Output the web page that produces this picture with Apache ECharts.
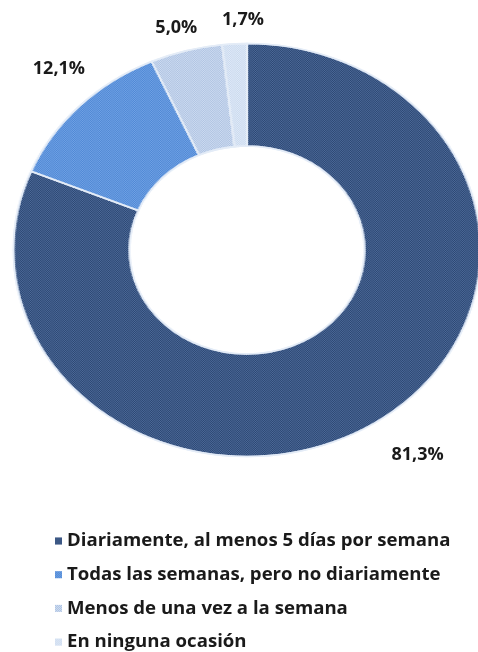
<!DOCTYPE html>
<html>
<head>
<meta charset="utf-8">
<script src="https://cdn.jsdelivr.net/npm/echarts@6/dist/echarts.min.js"></script>
<style>
  html, body { margin: 0; padding: 0; background: #ffffff; overflow: hidden; }
  #stage { position: relative; width: 478px; height: 652px; overflow: hidden; }
  #ring { position: absolute; left: 0; top: 0; width: 478px; height: 652px; }
  #annot { position: absolute; left: 0; top: 0; width: 478px; height: 760px; }
</style>
</head>
<body>
<div id="stage">
  <div id="ring"></div>
  <div id="annot"></div>
</div>
<script>
// Frequency categories and their shares (%)
const categories = [
  'Diariamente, al menos 5 días por semana',
  'Todas las semanas, pero no diariamente',
  'Menos de una vez a la semana',
  'En ninguna ocasión'
];
const shares = [81.3, 12.1, 5.0, 1.7];

// Styling
const baseColors = ['#2C4772', '#4E88D6', '#AEC3E3', '#C9D9EF'];
const dotColors = ['rgba(105,135,185,0.55)', 'rgba(150,188,240,0.5)', 'rgba(228,236,248,0.6)', 'rgba(242,246,252,0.6)'];
const labelNudge = [[24, 8], [1, -16], [-2, 6], [10, 6]];

// Ring geometry (the ring is drawn round and widened horizontally)
const CX = 247, CY = 250, R_OUT = 206.5, R_IN = 104;
const STRETCH = 233.5 / 206.5;
const FONT = '"Open Sans", "Noto Sans", sans-serif';

function checker(color) {
  return {
    symbol: 'rect',
    symbolSize: 1,
    color: color,
    dashArrayX: [[1, 1], [0, 1, 1, 0]],
    dashArrayY: [1, 0]
  };
}

function pieData() {
  return categories.map((name, i) => ({
    name: name,
    value: shares[i],
    itemStyle: { color: baseColors[i], decal: checker(dotColors[i]) }
  }));
}

const ringEl = document.getElementById('ring');
ringEl.style.transformOrigin = CX + 'px 0px';
ringEl.style.transform = 'scaleX(' + STRETCH + ')';

// The ring itself
const ring = echarts.init(ringEl, null, { renderer: 'canvas' });
ring.setOption({
  animation: false,
  series: [{
    type: 'pie',
    silent: true,
    center: [CX, CY],
    radius: [R_IN, R_OUT],
    startAngle: 90,
    clockwise: true,
    label: { show: false },
    labelLine: { show: false },
    itemStyle: { borderColor: '#E4ECF7', borderWidth: 1.6 },
    data: pieData()
  }]
});

// Value labels placed just outside the widened ring, plus legend
const total = shares.reduce((a, b) => a + b, 0);
const midAngles = [];
let acc = 0;
shares.forEach(v => { midAngles.push((acc + v / 2) / total * Math.PI * 2); acc += v; });

const annot = echarts.init(document.getElementById('annot'), null, { renderer: 'canvas' });
annot.setOption({
  animation: false,
  legend: {
    orient: 'vertical',
    left: 50,
    top: 526,
    itemWidth: 7,
    itemHeight: 7,
    itemGap: 13.7,
    icon: 'rect',
    itemStyle: { opacity: 1 },
    textStyle: { fontFamily: FONT, fontWeight: 'bold', fontSize: 18.6, color: '#1A1A1A', lineHeight: 20 },
    data: categories
  },
  series: [{
    type: 'pie',
    silent: true,
    center: [CX, CY],
    radius: [R_IN, R_OUT],
    startAngle: 90,
    clockwise: true,
    itemStyle: { opacity: 0 },
    labelLine: { show: false },
    label: {
      show: true,
      position: 'inside',
      opacity: 1,
      fontFamily: FONT,
      fontWeight: 'bold',
      fontSize: 18,
      color: '#1A1A1A',
      formatter: p => p.value.toFixed(1).replace('.', ',') + '%'
    },
    labelLayout: p => {
      const i = p.dataIndex;
      const t = midAngles[i];
      const ux = Math.sin(t), uy = -Math.cos(t);
      const ex = CX + R_OUT * STRETCH * ux;
      const ey = CY + R_OUT * uy;
      const gap = 30;
      return {
        x: ex + ux * gap + labelNudge[i][0],
        y: ey + uy * gap + labelNudge[i][1],
        align: 'center',
        verticalAlign: 'middle'
      };
    },
    data: pieData()
  }]
});
</script>
</body>
</html>
